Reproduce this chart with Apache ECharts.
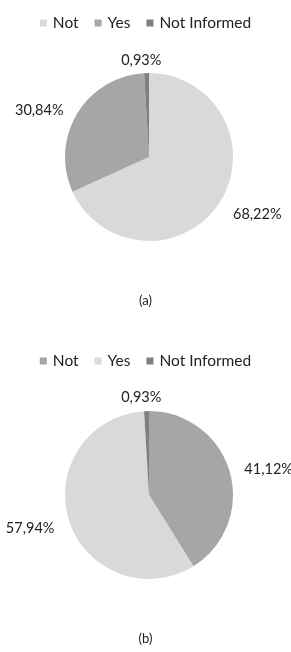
<!DOCTYPE html>
<html>
<head>
<meta charset="utf-8">
<script src="https://cdn.jsdelivr.net/npm/echarts@6/dist/echarts.min.js"></script>
<style>
  html, body { margin: 0; padding: 0; background: #fff; }
  .box { width: 291px; height: 326px; }
</style>
</head>
<body>
<div id="chartA" class="box"></div>
<div id="chartB" class="box"></div>
<script>
'use strict';
var categories = ['Not', 'Yes', 'Not Informed'];
var valuesA = [68.22, 30.84, 0.93];
var valuesB = [41.12, 57.94, 0.93];
var colorsA = ['#d9d9d9', '#a6a6a6', '#7f7f7f'];
var colorsB = ['#a6a6a6', '#d9d9d9', '#7f7f7f'];
var FONT = 'Lato, "Open Sans", sans-serif';

function makePie(dom, values, colors, caption, legendTop, centerY, nudge) {
  var chart = echarts.init(document.getElementById(dom));
  chart.setOption({
    animation: false,
    color: colors,
    title: {
      text: caption, left: 'center', top: centerY + 132,
      textStyle: { fontFamily: FONT, fontSize: 13, fontWeight: 'normal', color: '#222' }
    },
    legend: {
      top: legendTop, left: 'center',
      icon: 'rect', itemWidth: 7, itemHeight: 7, itemGap: 16,
      textStyle: { fontFamily: FONT, fontSize: 15.5, color: '#222', padding: [0, 0, 0, 1] },
      data: categories
    },
    series: [{
      type: 'pie',
      center: [149, centerY],
      radius: 84,
      startAngle: 90,
      clockwise: true,
      label: {
        show: true, position: 'outside', overflow: 'none',
        fontFamily: FONT, fontSize: 14.5, color: '#222',
        formatter: function (p) { return p.value.toFixed(2).replace('.', ',') + '%'; }
      },
      labelLine: { show: false, length: 10, length2: 0 },
      labelLayout: function (p) {
        var r = { dy: nudge[p.dataIndex] };
        // small slice label sits centred over the top of the pie
        if (p.dataIndex === 2) r.align = 'center';
        return r;
      },
      itemStyle: { borderWidth: 0 },
      data: categories.map(function (c, i) { return { name: c, value: values[i] }; })
    }]
  });
  return chart;
}

makePie('chartA', valuesA, colorsA, '(a)', 10, 157, [6, 2, -3]);
makePie('chartB', valuesB, colorsB, '(b)', 22, 169, [0, 5, -4]);
</script>
</body>
</html>
